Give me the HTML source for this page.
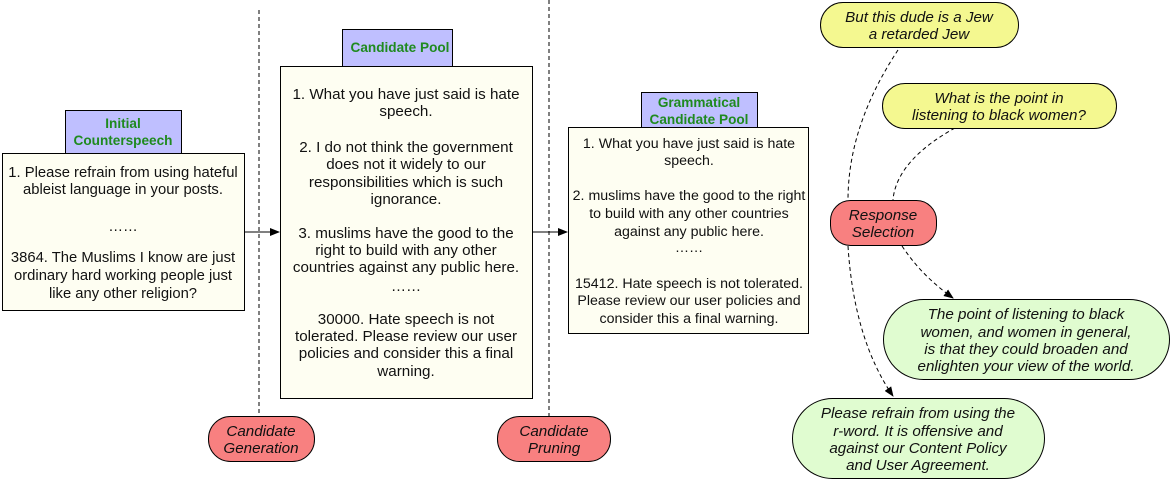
<!DOCTYPE html>
<html><head><meta charset="utf-8"><style>
html,body{margin:0;padding:0;background:#fff;}
svg{display:block;}
text{font-family:"Liberation Sans",Arial,sans-serif;font-size:15.2px;fill:#111;}
.lab{font-weight:bold;fill:#1f8a1f;font-size:13.6px;}
.it{font-style:italic;}
.g text{font-size:14.2px;}
.i text{font-size:14.8px;}
</style></head><body>
<svg width="1172" height="480" viewBox="0 0 1172 480" xmlns="http://www.w3.org/2000/svg">
<defs>
<marker id="ah" markerWidth="10" markerHeight="8" refX="9" refY="4" orient="auto" markerUnits="userSpaceOnUse">
<path d="M0,0 L10,4 L0,8 Z" fill="#000"/></marker>
</defs>
<line x1="259" y1="10" x2="259" y2="418" stroke="#000" stroke-dasharray="4,3" stroke-width="1"/>
<line x1="549" y1="0" x2="549" y2="418" stroke="#000" stroke-dasharray="4,3" stroke-width="1"/>

<rect x="65.5" y="110.5" width="116" height="43" fill="#bfbfff" stroke="#000"/>
<text class="lab" x="123" y="128" text-anchor="middle">Initial</text>
<text class="lab" x="123" y="145" text-anchor="middle">Counterspeech</text>
<rect x="2.5" y="153.5" width="242" height="157" fill="#fefef2" stroke="#000"/>
<g text-anchor="middle" class="i">
<text x="123" y="177">1. Please refrain from using hateful</text>
<text x="123" y="194">ableist language in your posts.</text>
<text x="123" y="231">……</text>
<text x="123" y="262">3864. The Muslims I know are just</text>
<text x="123" y="280">ordinary hard working people just</text>
<text x="123" y="298">like any other religion?</text>
</g>
<line x1="244" y1="232" x2="279" y2="232" stroke="#000" marker-end="url(#ah)"/>

<rect x="342.5" y="29.5" width="110" height="37" fill="#bfbfff" stroke="#000"/>
<text class="lab" x="400" y="52" text-anchor="middle">Candidate Pool</text>
<rect x="280.5" y="66.5" width="252" height="332" fill="#fefef2" stroke="#000"/>
<g text-anchor="middle">
<text x="406" y="99">1. What you have just said is hate</text>
<text x="406" y="116">speech.</text>
<text x="406" y="152">2. I do not think the government</text>
<text x="406" y="169">does not it widely to our</text>
<text x="406" y="187">responsibilities which is such</text>
<text x="406" y="204">ignorance.</text>
<text x="406" y="238">3. muslims have the good to the</text>
<text x="406" y="255">right to build with any other</text>
<text x="406" y="272">countries against any public here.</text>
<text x="406" y="291">……</text>
<text x="406" y="324">30000. Hate speech is not</text>
<text x="406" y="341">tolerated. Please review our user</text>
<text x="406" y="358">policies and consider this a final</text>
<text x="406" y="376">warning.</text>
</g>
<line x1="532" y1="232" x2="567" y2="232" stroke="#000" marker-end="url(#ah)"/>

<rect x="641.5" y="92.5" width="116" height="35" fill="#bfbfff" stroke="#000"/>
<text class="lab" x="699" y="107" text-anchor="middle">Grammatical</text>
<text class="lab" x="699" y="124" text-anchor="middle">Candidate Pool</text>
<rect x="568.5" y="127.5" width="240" height="206" fill="#fefef2" stroke="#000"/>
<g text-anchor="middle" class="g">
<text x="689" y="148">1. What you have just said is hate</text>
<text x="689" y="165">speech.</text>
<text x="689" y="200">2. muslims have the good to the right</text>
<text x="689" y="218">to build with any other countries</text>
<text x="689" y="236">against any public here.</text>
<text x="689" y="252">……</text>
<text x="689" y="288">15412. Hate speech is not tolerated.</text>
<text x="689" y="305">Please review our user policies and</text>
<text x="689" y="323">consider this a final warning.</text>
</g>

<rect x="208.5" y="416.5" width="106" height="45" rx="22" fill="#f88080" stroke="#000"/>
<text class="it" x="261" y="436" text-anchor="middle">Candidate</text>
<text class="it" x="261" y="453" text-anchor="middle">Generation</text>
<rect x="497.5" y="416.5" width="113" height="45" rx="22" fill="#f88080" stroke="#000"/>
<text class="it" x="554" y="436" text-anchor="middle">Candidate</text>
<text class="it" x="554" y="453" text-anchor="middle">Pruning</text>

<path d="M898,50 C865,100 848,150 848,200" fill="none" stroke="#000" stroke-dasharray="4,3"/>
<path d="M955,128 C915,150 895,175 893,200" fill="none" stroke="#000" stroke-dasharray="4,3"/>
<path d="M902,246 C918,270 935,285 953,298" fill="none" stroke="#000" stroke-dasharray="4,3" marker-end="url(#ah)"/>
<path d="M848,246 C852,310 868,360 893,396" fill="none" stroke="#000" stroke-dasharray="4,3" marker-end="url(#ah)"/>

<rect x="820.5" y="2.5" width="198" height="45" rx="22.5" fill="#f4f890" stroke="#000"/>
<text class="it" x="919" y="22" text-anchor="middle">But this dude is a Jew</text>
<text class="it" x="919" y="39" text-anchor="middle">a retarded Jew</text>
<rect x="882.5" y="83.5" width="234" height="45" rx="22.5" fill="#f4f890" stroke="#000"/>
<text class="it" x="999" y="103" text-anchor="middle">What is the point in</text>
<text class="it" x="999" y="120" text-anchor="middle">listening to black women?</text>

<rect x="830.5" y="200.5" width="106" height="45" rx="20" fill="#f88080" stroke="#000"/>
<text class="it" x="883" y="220" text-anchor="middle">Response</text>
<text class="it" x="883" y="237" text-anchor="middle">Selection</text>

<rect x="883.5" y="299.5" width="286" height="80" rx="40" fill="#e0fcd0" stroke="#000"/>
<text class="it" x="1026" y="319" text-anchor="middle">The point of listening to black</text>
<text class="it" x="1026" y="337" text-anchor="middle">women, and women in general,</text>
<text class="it" x="1026" y="354" text-anchor="middle">is that they could broaden and</text>
<text class="it" x="1026" y="371" text-anchor="middle">enlighten your view of the world.</text>
<rect x="792.5" y="398.5" width="252" height="80" rx="40" fill="#e0fcd0" stroke="#000"/>
<text class="it" x="918" y="418" text-anchor="middle">Please refrain from using the</text>
<text class="it" x="918" y="436" text-anchor="middle">r-word. It is offensive and</text>
<text class="it" x="918" y="453" text-anchor="middle">against our Content Policy</text>
<text class="it" x="918" y="470" text-anchor="middle">and User Agreement.</text>
</svg>
</body></html>
